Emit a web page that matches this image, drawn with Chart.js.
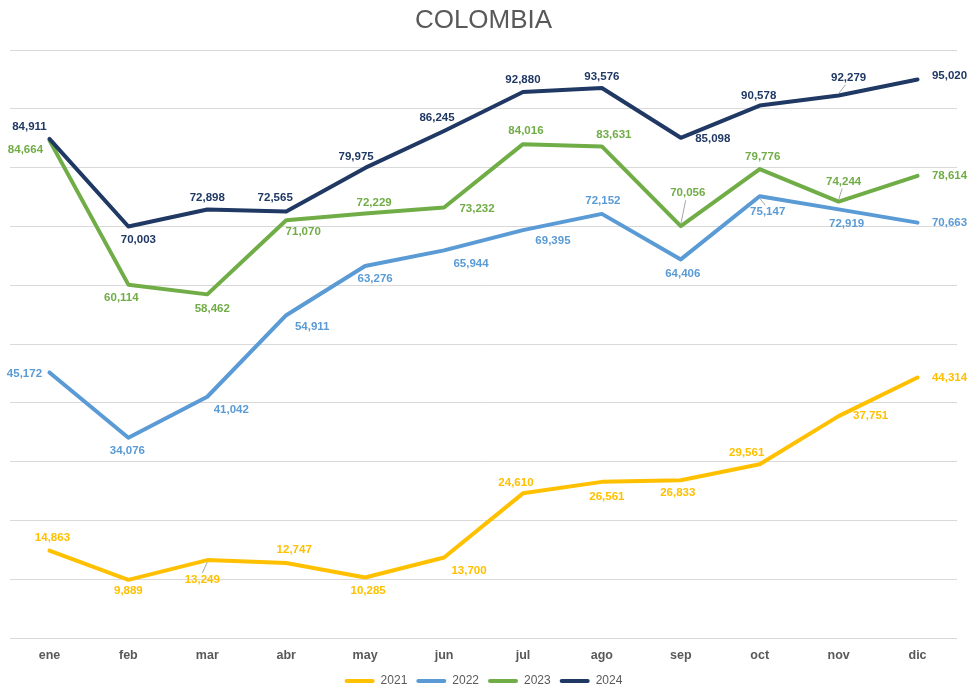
<!DOCTYPE html>
<html>
<head>
<meta charset="utf-8">
<title>COLOMBIA</title>
<script src="https://cdn.jsdelivr.net/npm/chart.js@4/dist/chart.umd.min.js"></script>
<style>
  html, body { margin: 0; padding: 0; background: #fff; }
  #wrap { width: 971px; height: 691px; }
</style>
</head>
<body>
<div id="wrap"><canvas id="chart"></canvas></div>
<script>
// datos
const months = ['ene', 'feb', 'mar', 'abr', 'may', 'jun', 'jul', 'ago', 'sep', 'oct', 'nov', 'dic'];
const years = ['2021', '2022', '2023', '2024'];
const v2021 = [14863, 9889, 13249, 12747, 10285, 13700, 24610, 26561, 26833, 29561, 37751, 44314];
const v2022 = [45172, 34076, 41042, 54911, 63276, 65944, 69395, 72152, 64406, 75147, 72919, 70663];
const v2023 = [84664, 60114, 58462, 71070, 72229, 73232, 84016, 83631, 70056, 79776, 74244, 78614];
const v2024 = [84911, 70003, 72898, 72565, 79975, 86245, 92880, 93576, 85098, 90578, 92279, 95020];

const colors = ['#FFC000', '#5B9BD5', '#70AD47', '#203864'];

// posición de las etiquetas (dx, dy respecto al punto) y líneas guía
const labelOffsets = [
    [[3,-13],[0,11],[-5,20],[8,-13],[3,13],[25,13],[-7,-11],[5,15],[-3,13],[-13,-11],[32,0],[32,0]],
    [[-25,1],[-1,13],[24,13],[26,12],[10,13],[27,13],[30,11],[1,-13],[2,14],[8,16],[8,14],[32,0]],
    [[-24,9],[-7,13],[5,14],[17,12],[9,-11],[33,1],[3,-13],[12,-12],[7,-33],[3,-12],[5,-20],[32,0]],
    [[-20,-12],[10,13],[0,-12],[-11,-14],[-9,-11],[-7,-13],[0,-12],[0,-11],[32,1],[-1,-10],[10,-18],[32,-4]]
];
const leaders = [[2], [9], [8, 10], [10]];

const fmt = n => n.toLocaleString('en-US');

// etiquetas de datos
const dataLabels = {
    id: 'dataLabels',
    afterDatasetsDraw(chart) {
        const ctx = chart.ctx;
        ctx.save();
        ctx.font = 'bold 11.5px "Liberation Sans", Arial, sans-serif';
        ctx.textAlign = 'center';
        ctx.textBaseline = 'middle';
        chart.data.datasets.forEach((ds, di) => {
            const meta = chart.getDatasetMeta(di);
            meta.data.forEach((pt, i) => {
                const [dx, dy] = labelOffsets[di][i];
                const lx = pt.x + dx, ly = pt.y + dy;
                if (leaders[di].includes(i)) {
                    ctx.strokeStyle = '#a6a6a6';
                    ctx.lineWidth = 1;
                    ctx.beginPath();
                    ctx.moveTo(pt.x, pt.y + (dy > 0 ? 2 : -2));
                    ctx.lineTo(lx + (dx > 0 ? -dx * 0.3 : 0), ly + (dy > 0 ? -7 : 7));
                    ctx.stroke();
                }
                ctx.fillStyle = colors[di];
                ctx.fillText(fmt(ds.data[i]), lx, ly);
            });
        });
        ctx.restore();
    }
};

// leyenda más baja: altura fija
const legendHeight = {
    id: 'legendHeight',
    beforeLayout(chart) {
        const lg = chart.legend;
        if (lg && !lg._patched) {
            const fit = lg.fit;
            lg.fit = function() {
                fit.call(this);
                this.height = 25;
            };
            lg._patched = true;
        }
    }
};

const series = [v2021, v2022, v2023, v2024];

new Chart(document.getElementById('chart'), {
    type: 'line',
    data: {
        labels: months,
        datasets: series.map((vals, i) => ({
            label: years[i],
            data: vals,
            borderColor: colors[i],
            backgroundColor: colors[i],
            borderWidth: 4,
            borderCapStyle: 'round',
            borderJoinStyle: 'round',
            pointRadius: 0,
            tension: 0,
            order: 3 - i
        }))
    },
    options: {
        responsive: true,
        maintainAspectRatio: false,
        animation: false,
        layout: { padding: { left: 10, right: 14, top: 0, bottom: 0 } },
        scales: {
            x: {
                offset: true,
                grid: { display: false, drawTicks: false },
                border: { display: false },
                ticks: {
                    color: '#595959',
                    padding: 10,
                    font: { family: '"Liberation Sans", Arial, sans-serif', size: 12.5, weight: 'bold' }
                },
                afterFit(scale) { scale.height = 28; }
            },
            y: {
                min: 0,
                max: 100000,
                ticks: { display: false, stepSize: 10000 },
                grid: { color: '#d9d9d9', lineWidth: 1, drawTicks: false },
                border: { display: false }
            }
        },
        plugins: {
            title: {
                display: true,
                text: 'COLOMBIA',
                color: '#595959',
                padding: { top: 5, bottom: 14 },
                font: { family: '"Liberation Sans", Arial, sans-serif', size: 26, weight: 'normal' }
            },
            legend: {
                position: 'bottom',
                labels: {
                    boxWidth: 30,
                    boxHeight: 4,
                    padding: 9,
                    color: '#595959',
                    font: { family: '"Liberation Sans", Arial, sans-serif', size: 12 },
                    generateLabels(chart) {
                        const items = Chart.defaults.plugins.legend.labels.generateLabels(chart);
                        items.forEach(it => {
                            it.lineWidth = 0;
                            it.fillStyle = colors[it.datasetIndex];
                            it.borderRadius = 2;
                        });
                        return items.sort((a, b) => a.datasetIndex - b.datasetIndex);
                    }
                }
            },
            tooltip: { enabled: false }
        }
    },
    plugins: [dataLabels, legendHeight]
});
</script>
</body>
</html>
